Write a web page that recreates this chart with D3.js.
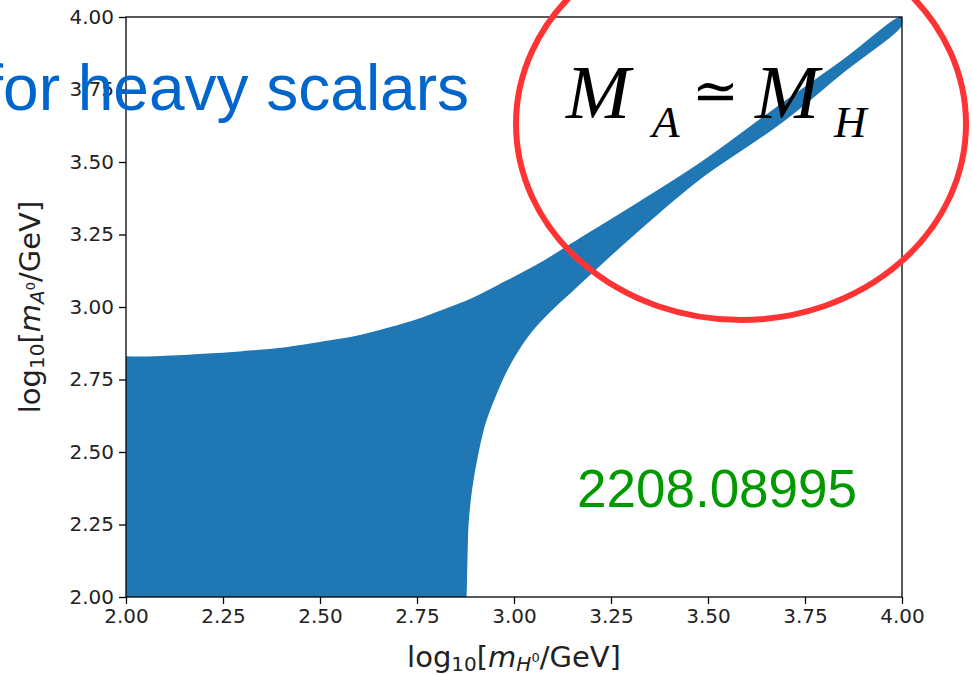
<!DOCTYPE html>
<html lang="en">
<head>
<meta charset="UTF-8">
<title>log10 mA vs log10 mH</title>
<style>
  body { margin: 0; background: #fff; }
  svg { display: block; }
</style>
</head>
<body>
<svg></svg>
<script src="https://cdn.jsdelivr.net/npm/d3@7"></script>
<script>
    // upper edge of the allowed region (log10 mH, log10 mA)
    const upperX = [2.00, 2.05, 2.10, 2.15, 2.20, 2.25, 2.30, 2.40, 2.50, 2.60, 2.70, 2.75, 2.81, 2.89, 2.98, 3.07, 3.17, 3.27, 3.48, 3.69, 3.85, 4.00];
    const upperY = [2.828, 2.827, 2.829, 2.832, 2.836, 2.840, 2.845, 2.857, 2.877, 2.900, 2.935, 2.955, 2.985, 3.027, 3.088, 3.152, 3.235, 3.317, 3.495, 3.700, 3.852, 4.000];
    // lower / right edge, from the top-right corner down to the x axis
    const lowerX = [4.00, 3.85, 3.686, 3.479, 3.376, 3.273, 3.152, 3.10, 3.041, 2.985, 2.950, 2.925, 2.907, 2.890, 2.881, 2.878, 2.876];
    const lowerY = [3.975, 3.812, 3.634, 3.443, 3.329, 3.208, 3.059, 2.995, 2.910, 2.793, 2.690, 2.600, 2.500, 2.370, 2.250, 2.120, 2.000];

    const xTicks = [2.00, 2.25, 2.50, 2.75, 3.00, 3.25, 3.50, 3.75, 4.00];
    const yTicks = [2.00, 2.25, 2.50, 2.75, 3.00, 3.25, 3.50, 3.75, 4.00];

    const width = 972, height = 675;
    const plotL = 126, plotR = 902, plotT = 17, plotB = 597;

    const svg = d3.select("svg")
        .attr("width", width)
        .attr("height", height)
        .style("font-family", "'DejaVu Sans', sans-serif");

    const x = d3.scaleLinear().domain([2, 4]).range([plotL, plotR]);
    const y = d3.scaleLinear().domain([2, 4]).range([plotB, plotT]);

    svg.append("clipPath").attr("id", "plot")
        .append("rect")
        .attr("x", plotL).attr("y", plotT)
        .attr("width", plotR - plotL).attr("height", plotB - plotT);

    // region outline: along the upper edge, back along the lower edge, then close via the (2,2) corner
    const pts = upperX.map((d, i) => [d, upperY[i]])
        .concat(lowerX.map((d, i) => [d, lowerY[i]]));

    const line = d3.line()
        .x(d => x(d[0]))
        .y(d => y(d[1]))
        .curve(d3.curveCatmullRom.alpha(0.5));

    svg.append("path")
        .attr("clip-path", "url(#plot)")
        .attr("d", line(pts) + `L${x(2)},${y(2)}Z`)
        .attr("fill", "#1f77b4")
        .attr("stroke", "#1f77b4")
        .attr("stroke-width", 1.5)
        .attr("stroke-linejoin", "round");

    const fmt = d3.format(".2f");

    const gx = svg.append("g")
        .attr("transform", `translate(0,${plotB})`)
        .call(d3.axisBottom(x).tickValues(xTicks).tickFormat(fmt).tickSize(7).tickPadding(5).tickSizeOuter(0));
    const gy = svg.append("g")
        .attr("transform", `translate(${plotL},0)`)
        .call(d3.axisLeft(y).tickValues(yTicks).tickFormat(fmt).tickSize(7).tickPadding(5).tickSizeOuter(0));

    [gx, gy].forEach(g => {
        g.select(".domain").remove();
        g.selectAll(".tick line").attr("stroke", "#000").attr("stroke-width", 1.3);
        g.selectAll(".tick text")
            .attr("fill", "#222")
            .style("font-family", "'DejaVu Sans', sans-serif")
            .style("font-size", "20px");
    });

    svg.append("rect")
        .attr("x", plotL).attr("y", plotT)
        .attr("width", plotR - plotL).attr("height", plotB - plotT)
        .attr("fill", "none")
        .attr("stroke", "#000")
        .attr("stroke-width", 1.3);

    // axis labels: log10[m_{X^0}/GeV]
    function axisLabel(t, sub) {
        t.append("tspan").text("log");
        t.append("tspan").attr("dy", 4).style("font-size", "20px").text("10");
        t.append("tspan").attr("dy", -4).text("[");
        t.append("tspan").style("font-style", "italic").text("m");
        t.append("tspan").attr("dy", 4).style("font-size", "20px").style("font-style", "italic").text(sub);
        t.append("tspan").attr("dy", -9).style("font-size", "13px").text("0");
        t.append("tspan").attr("dy", 5).text("/GeV]");
    }

    svg.append("text")
        .attr("x", (plotL + plotR) / 2)
        .attr("y", 667)
        .attr("text-anchor", "middle")
        .attr("fill", "#222")
        .style("font-size", "29px")
        .call(axisLabel, "H");

    svg.append("text")
        .attr("transform", `translate(40,${(plotT + plotB) / 2}) rotate(-90)`)
        .attr("text-anchor", "middle")
        .attr("fill", "#222")
        .style("font-size", "29px")
        .call(axisLabel, "A");

    // annotations
    svg.append("text")
        .attr("x", 469).attr("y", 110)
        .attr("text-anchor", "end")
        .attr("fill", "#0066cc")
        .style("font-family", "'Liberation Sans', Arial, sans-serif")
        .style("font-size", "64px")
        .text("for heavy scalars");

    svg.append("text")
        .attr("x", 577).attr("y", 507)
        .attr("fill", "#009900")
        .style("font-family", "'Liberation Sans', Arial, sans-serif")
        .style("font-size", "53px")
        .text("2208.08995");

    const serif = "'Liberation Serif', 'DejaVu Serif', serif";
    const eq = svg.append("g").style("font-family", serif).attr("fill", "#000");
    eq.append("text").attr("x", 566).attr("y", 118).style("font-style", "italic").style("font-size", "77px").text("M");
    eq.append("text").attr("x", 652).attr("y", 137).style("font-style", "italic").style("font-size", "45px").text("A");
    eq.append("text").attr("x", 692).attr("y", 110).style("font-size", "56px").text("≃");
    eq.append("text").attr("x", 755).attr("y", 118).style("font-style", "italic").style("font-size", "77px").text("M");
    eq.append("text").attr("x", 834).attr("y", 137).style("font-style", "italic").style("font-size", "45px").text("H");

    svg.append("ellipse")
        .attr("cx", 741).attr("cy", 124)
        .attr("rx", 225).attr("ry", 196)
        .attr("fill", "none")
        .attr("stroke", "#ff3333")
        .attr("stroke-width", 6);
</script>
</body>
</html>
